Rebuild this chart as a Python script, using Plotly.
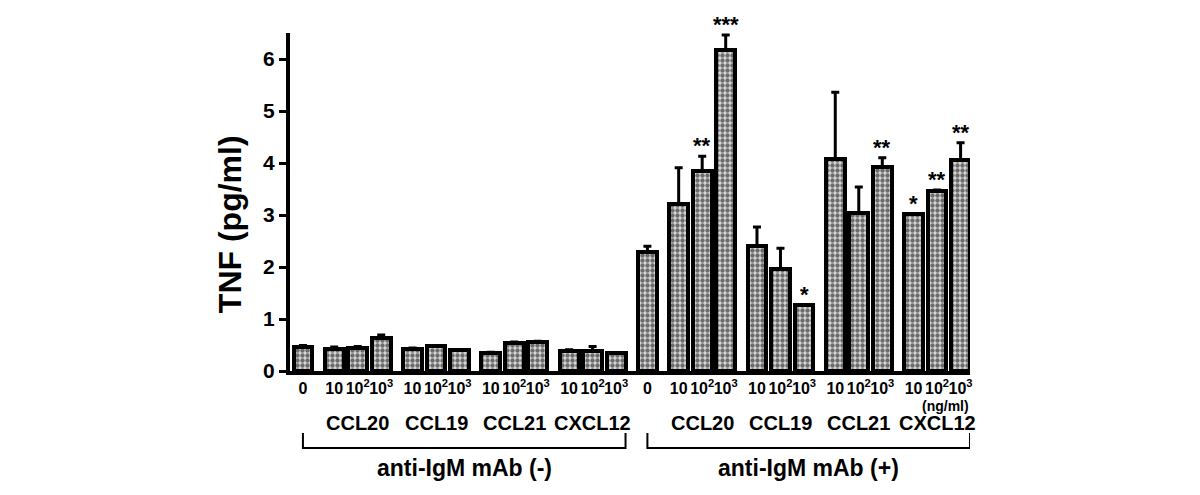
import plotly.graph_objects as go

# chemokines and doses (ng/ml)
chemokines = ["CCL20", "CCL19", "CCL21", "CXCL12"]
doses = ["10", "10<sup>2</sup>", "10<sup>3</sup>"]
sides = ["anti-IgM mAb (-)", "anti-IgM mAb (+)"]

# TNF (pg/ml): control "0" bar first, then 3 doses per chemokine
tnf_minus = [0.47, 0.43, 0.45, 0.64, 0.43, 0.48, 0.40, 0.35, 0.54, 0.55, 0.38, 0.38, 0.34]
err_minus = [0.02, 0.03, 0.02, 0.05, 0.01, 0.01, 0.01, 0.01, 0.02, 0.02, 0.03, 0.09, 0.01]
tnf_plus = [2.29, 3.21, 3.85, 6.18, 2.41, 1.97, 1.27, 4.08, 3.03, 3.93, 3.01, 3.46, 4.05]
err_plus = [0.11, 0.70, 0.28, 0.28, 0.36, 0.39, 0.0, 1.28, 0.51, 0.17, 0.0, 0.02, 0.34]
signif_plus = ["", "", "**", "***", "", "", "*", "", "", "**", "*", "**", "**"]

GAP = 1.33  # extra spacing between clusters, in bar units
OFF = 8     # page body margin of the html page

# build x positions cluster by cluster
positions, labels, clusters = [], [], []
x = 0.0
for s in range(2):
    cl = [x]
    positions.append(x); labels.append("0")
    clusters.append(cl)
    for c in chemokines:
        x += GAP
        cl = []
        for i, d in enumerate(doses):
            if i > 0:
                x += 1
            positions.append(x); labels.append(d)
            cl.append(x)
        clusters.append(cl)
    x += GAP

values = tnf_minus + tnf_plus
errors = err_minus + err_plus
stars = [""] * len(tnf_minus) + signif_plus

fig = go.Figure()
fig.add_trace(go.Bar(
    x=positions, y=values, width=0.8,
    marker=dict(color="white", line=dict(color="black", width=4),
                pattern=dict(shape=".", fgcolor="black", bgcolor="#d8d8d8", size=5, solidity=0.6)),
    error_y=dict(type="data", array=errors, arrayminus=[0] * len(errors), symmetric=False,
                 color="black", thickness=3, width=4),
    showlegend=False,
))

# significance stars
for px, v, e, st in zip(positions, values, errors, stars):
    if st:
        fig.add_annotation(x=px, y=v + e, text=st, showarrow=False, yanchor="bottom", yshift=-4,
                           font=dict(size=22, color="black", family="Liberation Sans", weight="bold"))

BOLD = dict(family="Liberation Sans", color="black", weight="bold")

def ypix(p):
    # pixel row -> paper coordinate (plot area rows 33..371)
    return (371 - p) / 338

# chemokine names under each dose cluster
ci = 0
for s in range(2):
    first = clusters[ci][0]
    ci += 1
    for c in chemokines:
        cl = clusters[ci]
        fig.add_annotation(x=cl[1], y=ypix(423), xref="x", yref="paper", text=c, showarrow=False,
                           yanchor="middle", font=dict(size=20, **BOLD))
        ci += 1
    last = cl[-1] + 0.4
    # bracket
    yb, yt = ypix(448), ypix(433)
    fig.add_shape(type="path", xref="x", yref="paper",
                  path=f"M {first} {yt} L {first} {yb} L {last} {yb} L {last} {yt}",
                  line=dict(color="black", width=2))
    fig.add_annotation(x=(first + last) / 2, y=ypix(468), xref="x", yref="paper", text=sides[s],
                       showarrow=False, yanchor="middle", font=dict(size=23, **BOLD))

fig.add_annotation(x=positions[-2] + 0.35, y=ypix(406), xref="x", yref="paper", text="(ng/ml)",
                   showarrow=False, yanchor="middle", font=dict(size=14, **BOLD))

fig.add_annotation(x=-0.088, y=ypix(224), xref="paper", yref="paper", text="TNF (pg/ml)",
                   textangle=-90, showarrow=False, xanchor="center", yanchor="middle",
                   font=dict(size=32, **BOLD))

fig.update_layout(
    width=1200, height=495,
    margin=dict(l=290 - OFF, r=230 + OFF, t=33 - OFF, b=124 + OFF),
    plot_bgcolor="white", paper_bgcolor="white",
    bargap=0,
)
fig.update_xaxes(
    range=[-0.55, positions[-1] + 0.4], tickvals=positions, ticktext=labels,
    showline=True, linewidth=4, linecolor="black", ticks="", showgrid=False, zeroline=False,
    tickfont=dict(size=16, **BOLD), tickangle=0,
)
fig.update_yaxes(
    range=[0, 6.5], tickvals=[0, 1, 2, 3, 4, 5, 6],
    showline=True, linewidth=4, linecolor="black", ticks="outside", ticklen=7, tickwidth=3,
    tickcolor="black", showgrid=False, zeroline=False,
    tickfont=dict(size=21, **BOLD),
)

fig.write_html("out.html")
